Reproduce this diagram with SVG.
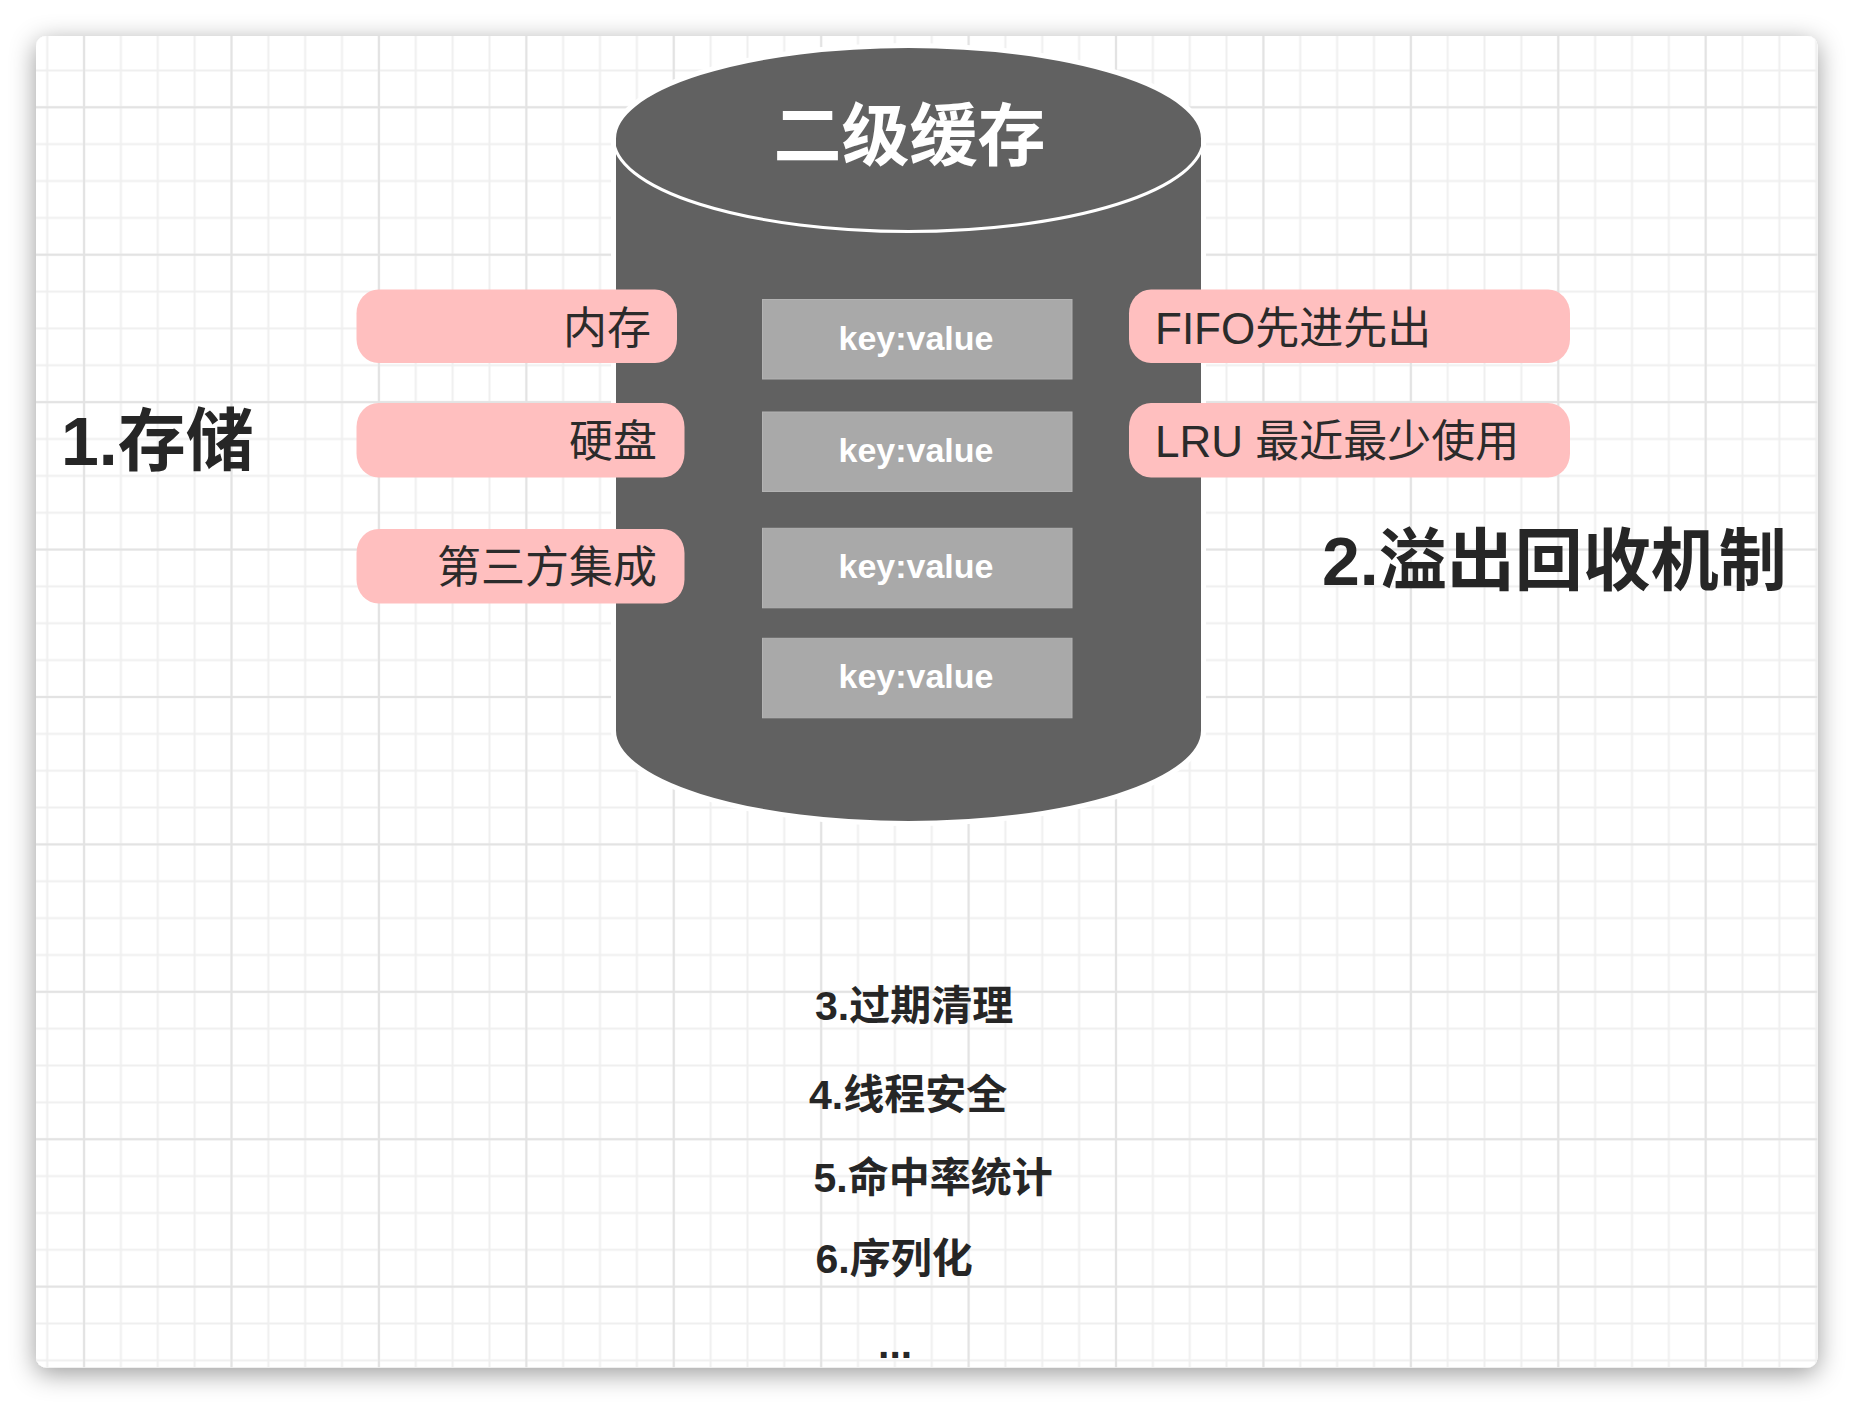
<svg xmlns="http://www.w3.org/2000/svg" width="1854" height="1404" viewBox="0 0 1854 1404">
  <style>
    text { font-family: "Liberation Sans", "Noto Sans CJK SC", sans-serif; }
    .pill { fill: #ffbfbf; }
    .pt { font-size: 44px; fill: #2b2b2b; }
    .big { font-size: 68px; font-weight: bold; fill: #262626; }
    .list { font-size: 41px; font-weight: bold; fill: #262626; }
    .kvbox { fill: #a9a9a9; stroke: #b3b3b3; stroke-width: 1; }
    .kv { font-size: 34px; font-weight: bold; fill: #ffffff; text-anchor: middle; }
    .title { font-size: 68px; font-weight: bold; fill: #ffffff; text-anchor: middle; }
  </style>
  <defs>
    <filter id="shadow" x="-10%" y="-10%" width="120%" height="120%">
      <feDropShadow dx="0" dy="6" stdDeviation="13" flood-color="#000000" flood-opacity="0.4"/>
    </filter>
    <pattern id="minor" patternUnits="userSpaceOnUse" x="28.77" y="52.02" width="36.855" height="36.855">
      <path d="M18.43,0 V36.855 M0,18.43 H36.855" stroke="#efefef" stroke-width="2" fill="none"/>
    </pattern>
    <pattern id="major" patternUnits="userSpaceOnUse" x="10.37" y="33.59" width="147.42" height="147.42">
      <path d="M73.71,0 V147.42 M0,73.71 H147.42" stroke="#e3e3e3" stroke-width="2" fill="none"/>
    </pattern>
    <clipPath id="cardclip">
      <rect x="36" y="36" width="1781.5" height="1331.5" rx="10" ry="10"/>
    </clipPath>
  </defs>

  <rect x="0" y="0" width="1854" height="1404" fill="#ffffff"/>
  <g id="card">
    <rect x="36" y="36" width="1781.5" height="1331.5" rx="10" ry="10" fill="#ffffff" filter="url(#shadow)"/>
    <g clip-path="url(#cardclip)">
      <rect x="36" y="36" width="1781.5" height="1331.5" fill="url(#minor)"/>
      <rect x="36" y="36" width="1781.5" height="1331.5" fill="url(#major)"/>
    </g>
  </g>

  <g id="connectors"></g>

  <g id="cylinder">
    <path d="M613.5,138.5 A295,93 0 0 1 1203.5,138.5 L1203.5,730.5 A295,93 0 0 1 613.5,730.5 Z" fill="#616161" stroke="#ffffff" stroke-width="5"/>
    <path d="M613.5,138.5 A295,93 0 0 0 1203.5,138.5" fill="none" stroke="#ffffff" stroke-width="3"/>
    <text class="title" x="909.5" y="160">二级缓存</text>
  </g>

  <g id="kv1">
    <rect class="kvbox" x="762.5" y="299.5" width="309.5" height="79.5"/>
    <text class="kv" x="916" y="349.5">key:value</text>
  </g>
  <g id="kv2">
    <rect class="kvbox" x="762.5" y="412" width="309.5" height="79.5"/>
    <text class="kv" x="916" y="461.7">key:value</text>
  </g>
  <g id="kv3">
    <rect class="kvbox" x="762.5" y="528.3" width="309.5" height="79.5"/>
    <text class="kv" x="916" y="578">key:value</text>
  </g>
  <g id="kv4">
    <rect class="kvbox" x="762.5" y="638.3" width="309.5" height="79.5"/>
    <text class="kv" x="916" y="688">key:value</text>
  </g>

  <g id="pill-memory">
    <rect class="pill" x="356.5" y="289.5" width="320.5" height="73.5" rx="22" ry="24"/>
    <text class="pt" x="651" y="344" text-anchor="end">内存</text>
  </g>
  <g id="pill-disk">
    <rect class="pill" x="356.5" y="403" width="328" height="74.5" rx="22" ry="24"/>
    <text class="pt" x="657" y="457" text-anchor="end">硬盘</text>
  </g>
  <g id="pill-third">
    <rect class="pill" x="356.5" y="529" width="328" height="74.5" rx="22" ry="24"/>
    <text class="pt" x="657" y="583" text-anchor="end">第三方集成</text>
  </g>
  <g id="pill-fifo">
    <rect class="pill" x="1129" y="289.5" width="441" height="73.5" rx="22" ry="24"/>
    <text class="pt" x="1155" y="344">FIFO先进先出</text>
  </g>
  <g id="pill-lru">
    <rect class="pill" x="1129" y="403" width="441" height="74.5" rx="22" ry="24"/>
    <text class="pt" x="1155" y="457">LRU 最近最少使用</text>
  </g>

  <g id="label-storage">
    <text class="big" x="61" y="465">1.存储</text>
  </g>
  <g id="label-overflow">
    <text class="big" x="1322" y="585">2.溢出回收机制</text>
  </g>

  <g id="list">
    <text class="list" x="815" y="1020">3.过期清理</text>
    <text class="list" x="809" y="1109">4.线程安全</text>
    <text class="list" x="813.5" y="1191.5">5.命中率统计</text>
    <text class="list" x="815.5" y="1272.5">6.序列化</text>
    <text class="list" x="878" y="1358">...</text>
  </g>
</svg>
